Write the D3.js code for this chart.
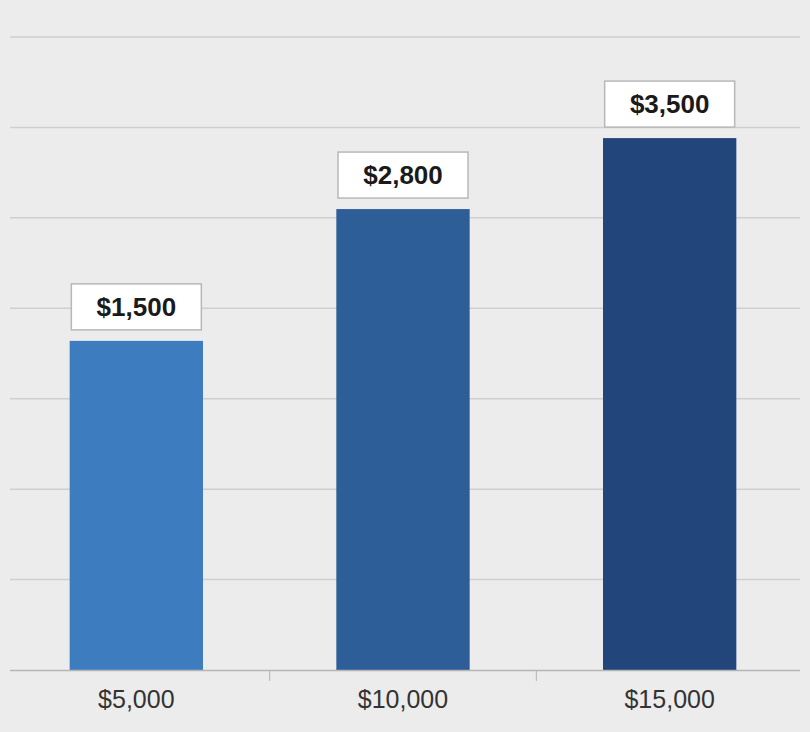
<!DOCTYPE html>
<html><head><meta charset="utf-8">
<script src="https://cdn.jsdelivr.net/npm/d3@7"></script>
<style>body{margin:0;background:#ececec;}svg{display:block;}</style>
</head><body>
<svg id="c" width="810" height="732"></svg>
<script>
const categories = ["$5,000", "$10,000", "$15,000"];
const values = [1500, 2800, 3500];
const valueLabels = ["$1,500", "$2,800", "$3,500"];
const colors = ["#3d7dbf", "#2e5e97", "#22467b"];

const svg = d3.select("#c");
svg.append("rect").attr("width",810).attr("height",732).attr("fill","#ececec");
const x = d3.scaleBand().domain(categories).range([3, 803]).paddingInner(0.5).paddingOuter(0.25);
const y = d3.scaleLinear().domain([-1746, 4497]).range([670, 37]);

const grid = d3.range(7).map(i => -1746 + (i+1) * (4497 + 1746) / 7);
svg.selectAll(".g").data(grid).enter().append("line")
  .attr("x1",10).attr("x2",800).attr("y1",d=>y(d)).attr("y2",d=>y(d))
  .attr("stroke","#cfcfcf").attr("stroke-width",1.5);

svg.selectAll(".b").data(values).enter().append("rect")
  .attr("x",(d,i)=>x(categories[i])).attr("width",x.bandwidth())
  .attr("y",d=>y(d)).attr("height",d=>y(-1746)-y(d))
  .attr("fill",(d,i)=>colors[i]);

svg.append("line").attr("x1",10).attr("x2",800).attr("y1",670.5).attr("y2",670.5)
  .attr("stroke","#b5b5b5").attr("stroke-width",1.5);
[0,1].forEach(i=>{
  const xm = (x(categories[i])+x.bandwidth()+x(categories[i+1]))/2;
  svg.append("line").attr("x1",xm).attr("x2",xm).attr("y1",671).attr("y2",681).attr("stroke","#b5b5b5");
});

const lbl = svg.selectAll(".l").data(values).enter().append("g")
  .attr("transform",(d,i)=>`translate(${x(categories[i])+x.bandwidth()/2},${y(d)-34})`);
lbl.append("rect").attr("x",-65).attr("y",-23).attr("width",130).attr("height",46)
  .attr("fill","#fff").attr("stroke","#b8b8b8").attr("stroke-width",1.5);
lbl.append("text").attr("text-anchor","middle").attr("dy","0.36em")
  .attr("font-family","Liberation Sans, Arial, sans-serif").attr("font-weight","bold")
  .attr("font-size",26).attr("fill","#1a1a1a").text((d,i)=>valueLabels[i]);

svg.selectAll(".t").data(categories).enter().append("text")
  .attr("x",d=>x(d)+x.bandwidth()/2).attr("y",708).attr("text-anchor","middle")
  .attr("font-family","Liberation Sans, Arial, sans-serif").attr("font-size",25)
  .attr("fill","#333").text(d=>d);
</script></body></html>
